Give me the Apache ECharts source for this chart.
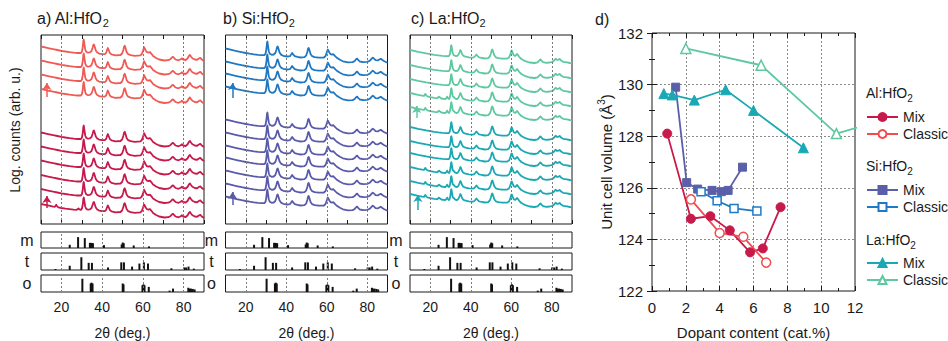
<!DOCTYPE html>
<html>
<head>
<meta charset="utf-8">
<script src="https://cdn.jsdelivr.net/npm/echarts@6.0.0/dist/echarts.min.js"></script>
<style>
html,body{margin:0;padding:0;background:#fff;}
#chart{width:948px;height:341px;}
</style>
</head>
<body>
<div id="chart"></div>
<script>
// ================= DATA =================
// XRD panels a–c : x = 2θ (deg.), y = log. counts (arb. u.)
const xrdRange = [10, 90];
const xrdTickLabels = [20, 40, 60, 80];

// representative profiles [2θ, intensity relative to the curve's baseline]
const profileAl = [
 [10,9.5],[12,8.6],[14,7.7],[16,6.8],[18,6.0],[20,5.2],[22,4.5],[24,3.9],[26,3.4],[28,3.0],[29.6,3.0],
 [30.1,4.5],[30.5,9],[30.8,15.5],[31.0,16.5],[31.3,12],[31.7,6.5],[32.2,4.2],[33.0,3.3],[34.0,3.6],[34.8,5],
 [35.3,8],[35.7,11],[36.0,11.5],[36.4,9],[36.9,5.5],[37.6,3.5],[38.5,2.4],[40,1.8],[41.3,1.8],[42.0,3.2],
 [42.5,6.5],[42.8,8],[43.2,6],[43.8,3],[44.6,1.6],[46.5,0.6],[49.0,1.0],[49.8,2.5],[50.4,6],[50.8,9.5],
 [51.1,10.2],[51.5,8],[52.0,4],[52.8,1.8],[54,0.8],[56,0.2],[58.8,0.6],[59.5,2],[60.1,5.5],[60.6,8.8],
 [60.9,8.5],[61.4,5.5],[62.0,3.8],[62.8,3.3],[63.5,3.8],[64.2,2.2],[65,0],[66.5,-2],[68,-3.5],[70.5,-4.5],
 [72.5,-4.2],[73.6,-3],[74.3,-1.3],[74.8,-0.8],[75.3,-1.8],[76,-3.5],[77.5,-4.3],[78.6,-3.3],[79.2,-2.3],
 [79.8,-3.5],[81,-4],[81.9,-2.5],[82.6,0],[83.1,1],[83.6,-0.5],[84.3,-2.3],[85.5,-3.5],[86.6,-3.8],
 [87.5,-2.5],[88.2,-1.8],[88.9,-3.5],[90,-5]
];
const profileAlMono = [
 [10,9.0],[12,8.2],[14,7.3],[16,6.4],[16.8,6.2],[17.2,7.5],[17.5,8.2],[17.9,6.6],[18.5,5.7],[20,5.0],[22,4.3],
 [24,3.8],[26,3.3],[27.5,3.1],[28.0,4.0],[28.4,4.6],[28.8,3.6],[29.6,3.1],
 [30.1,4.5],[30.5,8.5],[30.8,14.5],[31.0,15.5],[31.3,11.5],[31.7,6.5],[32.2,4.2],[33.0,3.3],[34.0,3.6],[34.8,5],
 [35.3,8],[35.7,10.5],[36.0,11],[36.4,8.5],[36.9,5.5],[37.6,3.5],[38.5,2.4],[40,1.8],[41.3,1.8],[42.0,3.2],
 [42.5,6.2],[42.8,7.5],[43.2,5.8],[43.8,3],[44.6,1.6],[46.5,0.6],[49.0,1.0],[49.8,2.5],[50.4,6],[50.8,9.2],
 [51.1,9.8],[51.5,7.6],[52.0,4],[52.8,1.8],[54,0.8],[56,0.2],[58.8,0.6],[59.5,2],[60.1,5.5],[60.6,8.5],
 [60.9,8.2],[61.4,5.5],[62.0,3.8],[62.8,3.3],[63.5,3.8],[64.2,2.2],[65,0],[66.5,-2],[68,-3.5],[70.5,-4.5],
 [72.5,-4.2],[73.6,-3],[74.3,-1.3],[74.8,-0.8],[75.3,-1.8],[76,-3.5],[77.5,-4.3],[78.6,-3.3],[79.2,-2.3],
 [79.8,-3.5],[81,-4],[81.9,-2.5],[82.6,0],[83.1,1],[83.6,-0.5],[84.3,-2.3],[85.5,-3.5],[86.6,-3.8],
 [87.5,-2.5],[88.2,-1.8],[88.9,-3.5],[90,-5]
];
const profileSi = [
 [10,9.5],[12,8.6],[14,7.6],[16,6.7],[18,5.8],[20,5.0],[22,4.3],[24,3.7],[26,3.2],[28,2.9],[29.3,2.9],
 [29.8,4.5],[30.2,9],[30.5,15.5],[30.7,16.5],[31.0,12],[31.4,6.5],[31.9,4.2],[32.8,3.2],[33.8,3.5],[34.6,5],
 [35.1,8],[35.5,11],[35.8,11.5],[36.2,9],[36.7,5.5],[37.4,3.4],[38.5,2.2],[40.5,1.5],[41.8,1.8],[42.4,3.5],
 [42.9,5],[43.4,3.6],[44.2,1.8],[45.5,1.1],[47,0.5],[49,0.8],[49.8,2.3],[50.4,6],[50.8,9.5],[51.1,10],
 [51.5,7.5],[52.0,4],[52.8,1.8],[54,0.8],[56,0.3],[58.6,0.5],[59.4,2],[60.0,5.5],[60.5,8.5],[60.8,8.3],
 [61.3,5.5],[61.9,3.8],[62.6,3.3],[63.2,3.9],[63.9,2.4],[64.8,0.5],[66.5,-1.8],[68,-3.3],[70.5,-4.3],
 [72.8,-4.1],[73.8,-3],[74.5,-1.2],[75.0,-0.6],[75.5,-1.8],[76.3,-3.5],[78,-4.2],[80,-3.9],[81.2,-2.8],
 [82.1,-0.8],[82.7,0.4],[83.3,-0.5],[84.1,-2.2],[85.2,-2.4],[86.1,-1.3],[86.7,-0.8],[87.3,-1.8],[88.2,-3],
 [89.2,-4],[90,-4.8]
];
const profileLa = [
 [10,9],[12,8.1],[14,7.2],[16,6.4],[18,5.6],[20,4.9],[22,4.2],[24,3.6],[26,3.1],[28,2.8],[29.1,2.8],
 [29.6,4.2],[30.0,8],[30.25,13],[30.45,13.8],[30.75,10],[31.1,5.8],[31.6,3.8],[32.5,3],[33.4,3.2],[34.0,4.5],
 [34.5,7],[34.85,9],[35.2,8],[35.6,5.5],[36.2,3.6],[37,2.6],[39,1.6],[41,1.4],[41.8,2],[42.4,3.5],[42.8,4.5],
 [43.3,3.2],[44.1,1.7],[45.5,1],[47,0.5],[48.6,0.9],[49.4,2.5],[50.0,5.8],[50.4,9],[50.7,9.5],[51.1,7.2],
 [51.6,3.8],[52.4,1.7],[53.6,0.8],[55.5,0.3],[58,0.4],[58.9,1.5],[59.6,4.8],[60.0,8],[60.3,8.5],[60.7,6],
 [61.3,3.7],[62.0,3.2],[62.5,4.2],[62.9,5],[63.3,4],[63.9,2.2],[65,0],[67,-2.2],[69,-3.5],[71.5,-4],
 [73.0,-3.3],[73.8,-1.6],[74.4,-0.4],[74.9,-1.6],[75.7,-3.2],[77.3,-3.8],[79,-3.5],[80.4,-2.8],[81.3,-1.2],
 [81.9,0.2],[82.5,-0.8],[83.2,-0.8],[83.9,0.1],[84.6,-1.6],[85.6,-2.8],[87.5,-3.4],[89,-4],[90,-4.5]
];
const profileLaMono = [
 [10,9],[12,8.1],[14,7.2],[16,6.4],[16.9,6.1],[17.3,7.4],[17.6,8],[18.0,6.6],[18.6,5.6],[20,4.9],[22,4.2],
 [23.4,3.8],[24.0,4.8],[24.35,5.4],[24.8,4.4],[25.5,3.5],[26.5,3.1],[27.5,3.0],[28.0,4.2],[28.35,5.4],
 [28.8,3.8],[29.3,3.0],
 [29.6,4.2],[30.0,8],[30.25,13],[30.45,13.8],[30.75,10],[31.1,5.8],[31.45,5.3],[31.7,5],[32.2,3.6],[32.8,3],
 [33.4,3.2],[34.0,4.5],[34.5,7],[34.85,9],[35.2,8],[35.6,5.5],[36.2,3.6],[37,2.6],[39,1.6],[41,1.4],[41.8,2],
 [42.4,3.5],[42.8,4.5],[43.3,3.2],[44.1,1.7],[45.5,1],[47,0.5],[48.6,0.9],[49.4,2.5],[50.0,5.8],[50.4,9],
 [50.7,9.5],[51.1,7.2],[51.6,3.8],[52.4,1.7],[53.6,0.8],[55.5,0.3],[58,0.4],[58.9,1.5],[59.6,4.8],[60.0,8],
 [60.3,8.5],[60.7,6],[61.3,3.7],[62.0,3.2],[62.5,4.2],[62.9,5],[63.3,4],[63.9,2.2],[65,0],[67,-2.2],[69,-3.5],
 [71.5,-4],[73.0,-3.3],[73.8,-1.6],[74.4,-0.4],[74.9,-1.6],[75.7,-3.2],[77.3,-3.8],[79,-3.5],[80.4,-2.8],
 [81.3,-1.2],[81.9,0.2],[82.5,-0.8],[83.2,-0.8],[83.9,0.1],[84.6,-1.6],[85.6,-2.8],[87.5,-3.4],[89,-4],[90,-4.5]
];

// vertical position (baseline) of each stacked curve, top to bottom
const offsetAlClassic = [168, 154, 140, 125.5];
const offsetAlMix     = [82, 68, 54, 39.5, 25.5, 11];
const offsetSiClassic = [166, 153, 141, 128];
const offsetSiMix     = [95, 82, 69, 57, 44, 31, 18];
const offsetLaClassic = [165, 150, 136, 122, 108];
const offsetLaMix     = [88, 74, 62, 48, 34, 21];

// which profile each curve uses (0 = main, 1 = with monoclinic traces)
const shapeAlClassic = [0, 0, 0, 0];
const shapeAlMix     = [0, 0, 0, 0, 0, 1];
const shapeSiClassic = [0, 0, 0, 0];
const shapeSiMix     = [0, 0, 0, 0, 0, 0, 0];
const shapeLaClassic = [0, 0, 0, 1, 1];
const shapeLaMix     = [0, 0, 0, 1, 1, 1];

// arrows [2θ, from, to]
const arrowsAl = [[12.9, 127, 141], [12.9, 16, 28]];
const arrowsSi = [[13.5, 126, 141], [13.5, 19, 32]];
const arrowsLa = [[13.3, 106, 118], [13.9, 14, 29]];

// reference patterns [2θ, relative intensity]
const refMono = [[24.1,0.2],[28.2,0.68],[31.5,0.62],[34.0,0.32],[34.5,0.32],[35.0,0.3],[35.5,0.3],[40.9,0.18],
 [49.6,0.22],[50.1,0.34],[50.6,0.3],[55.5,0.16],[63.0,0.1]];
const refTetra = [[17.1,0.06],[24.1,0.25],[29.8,0.75],[33.4,0.42],[35.0,0.42],[42.9,0.15],[49.4,0.45],[50.7,0.45],
 [54.7,0.2],[58.3,0.38],[60.5,0.45],[62.5,0.38],[74.0,0.1],[80.2,0.15],[81.2,0.15],[82.4,0.2],[85.0,0.08]];
const refOrtho = [[30.3,0.78],[34.4,0.5],[34.8,0.55],[35.3,0.5],[50.1,0.5],[50.5,0.45],[59.8,0.4],[60.3,0.45],
 [60.8,0.4],[62.9,0.3],[73.1,0.08],[74.8,0.2],[82.3,0.25],[82.8,0.2],[83.6,0.2],[84.5,0.18],[85.4,0.15]];
const refLabels = ['m', 't', 'o'];

// Panel d : unit cell volume (Å³) vs dopant content (cat.%)
const dRangeX = [0, 12];
const dRangeY = [122, 132];
const alMix     = [[0.9,128.1],[2.3,124.8],[3.45,124.9],[4.6,124.35],[5.8,123.5],[6.55,123.65],[7.6,125.25]];
const alClassic = [[2.3,125.55],[4.0,124.25],[5.4,124.1],[6.75,123.1]];
const siMix     = [[1.4,129.9],[2.05,126.2],[2.7,125.95],[3.55,125.9],[4.1,125.85],[4.5,125.9],[5.35,126.8]];
const siClassic = [[2.9,125.85],[3.85,125.5],[4.85,125.2],[6.2,125.1]];
const laMix     = [[0.7,129.65],[1.2,129.6],[2.5,129.4],[4.35,129.8],[6.0,129.0],[8.95,127.55]];
const laClassic = [[2.0,131.4],[6.45,130.75],[10.9,128.1],[13.0,128.5]];

// ================= CHART =================
const FONT = '"Liberation Sans", Arial, Helvetica, sans-serif';
const INK = '#1a1a1a';
const COLORS = {
  alClassic: '#f05a55', alMix: '#c8194b',
  siClassic: '#1f78c1', siMix: '#5a5aab',
  laClassic: '#5ec8a0', laMix: '#1aa9b4'
};

const chart = echarts.init(document.getElementById('chart'), null, {renderer: 'svg', width: 948, height: 341});

const option = {
  animation: false,
  backgroundColor: '#fff',
  textStyle: {fontFamily: FONT, color: INK},
  grid: [], xAxis: [], yAxis: [], series: [], legend: [], graphic: []
};

const MAIN_TOP = 35, MAIN_H = 189;
const boxRows = [[MAIN_TOP, MAIN_H], [232, 16], [253, 17], [275, 17]];

const panels = [
  {title: 'a) Al:HfO', left: 41, width: 163, titleX: 37, profiles: [profileAl, profileAlMono], arrows: arrowsAl,
   groups: [{off: offsetAlClassic, shape: shapeAlClassic, color: COLORS.alClassic},
            {off: offsetAlMix, shape: shapeAlMix, color: COLORS.alMix}]},
  {title: 'b) Si:HfO', left: 225.5, width: 162, titleX: 223, profiles: [profileSi, profileSi], arrows: arrowsSi,
   groups: [{off: offsetSiClassic, shape: shapeSiClassic, color: COLORS.siClassic},
            {off: offsetSiMix, shape: shapeSiMix, color: COLORS.siMix}]},
  {title: 'c) La:HfO', left: 410, width: 162, titleX: 411, profiles: [profileLa, profileLaMono], arrows: arrowsLa,
   groups: [{off: offsetLaClassic, shape: shapeLaClassic, color: COLORS.laClassic},
            {off: offsetLaMix, shape: shapeLaMix, color: COLORS.laMix}]}
];

const gridMarks = {
  silent: true, symbol: 'none', animation: false,
  label: {show: false},
  lineStyle: {color: '#7a7a7a', type: [2, 2], width: 1},
  data: xrdTickLabels.map(v => ({xAxis: v}))
};

panels.forEach((p) => {
  const g0 = option.grid.length;
  boxRows.forEach(([t, h]) => option.grid.push({
    left: p.left, width: p.width, top: t, height: h, show: true,
    borderColor: INK, borderWidth: 1, backgroundColor: 'transparent', outerBoundsMode: 'none'
  }));
  const xb = option.xAxis.length;
  const tickX = (pos) => ({
    gridIndex: g0, type: 'value', position: pos, min: xrdRange[0], max: xrdRange[1], interval: 10,
    axisLine: {show: false}, axisLabel: {show: false}, splitLine: {show: false},
    axisTick: {show: true, inside: true, length: 4, lineStyle: {color: INK, width: 1}}
  });
  option.xAxis.push(tickX('bottom'), tickX('top'));
  for (let k = 1; k <= 3; k++) {
    const last = k === 3;
    option.xAxis.push({
      gridIndex: g0 + k, type: 'value', min: xrdRange[0], max: xrdRange[1], interval: 10,
      axisLine: {show: false}, axisTick: {show: false}, splitLine: {show: false},
      axisLabel: {show: last, fontSize: 14, color: INK, fontFamily: FONT, margin: 8,
                  formatter: v => xrdTickLabels.includes(v) ? String(v) : ''},
      name: last ? '2θ (deg.)' : '', nameLocation: 'middle', nameGap: 34,
      nameTextStyle: {fontSize: 14, color: INK, fontFamily: FONT}
    });
  }
  const yb = option.yAxis.length;
  option.yAxis.push({gridIndex: g0, type: 'value', min: 0, max: MAIN_H, show: false});
  for (let k = 1; k <= 3; k++) option.yAxis.push({gridIndex: g0 + k, type: 'value', min: 0, max: 1, show: false});

  const xIdx = k => k === 0 ? xb : xb + 1 + k;
  // dotted guide lines
  for (let k = 0; k < 4; k++) {
    option.series.push({type: 'line', xAxisIndex: xIdx(k), yAxisIndex: yb + k, data: [], silent: true,
      markLine: gridMarks, z: 1});
  }
  // curves
  p.groups.forEach(gr => {
    gr.off.forEach((o, i) => {
      const prof = p.profiles[gr.shape[i]];
      option.series.push({
        type: 'line', xAxisIndex: xb, yAxisIndex: yb, showSymbol: false, symbol: 'none', silent: true,
        lineStyle: {color: gr.color, width: 1.8, join: 'round'}, z: 3,
        data: prof.map(([x, v]) => [x, v + o])
      });
    });
  });
  // arrows
  p.arrows.forEach((a, i) => {
    option.series.push({type: 'line', xAxisIndex: xb, yAxisIndex: yb, data: [], silent: true, z: 4,
      markLine: {silent: true, symbol: ['none', 'arrow'], symbolSize: 7, label: {show: false},
        lineStyle: {color: p.groups[i].color, width: 1.5, type: 'solid'},
        data: [[{coord: [a[0], a[1]]}, {coord: [a[0], a[2]]}]]}});
  });
  // reference bars
  [refMono, refTetra, refOrtho].forEach((ref, j) => {
    option.series.push({type: 'bar', xAxisIndex: xIdx(j + 1), yAxisIndex: yb + j + 1, barWidth: 2,
      silent: true, itemStyle: {color: '#111'}, data: ref, z: 3});
  });
  // texts
  option.graphic.push({type: 'text', left: p.titleX, top: 10, silent: true,
    style: {text: '{t|' + p.title + '}{s|2}', fill: INK,
      rich: {t: {fontSize: 16, lineHeight: 20, fontFamily: FONT, fill: INK},
             s: {fontSize: 11, lineHeight: 11, verticalAlign: 'bottom', fontFamily: FONT, fill: INK}}}});
  refLabels.forEach((lab, j) => {
    const [t, h] = boxRows[j + 1];
    option.graphic.push({type: 'text', x: p.left - 14, y: t + h / 2, silent: true,
      style: {text: lab, fontSize: 16, fontFamily: FONT, fill: INK, align: 'center', verticalAlign: 'middle'}});
  });
});

option.graphic.push({type: 'text', x: 15, y: 130, rotation: Math.PI / 2, silent: true,
  style: {text: 'Log. counts (arb. u.)', fontSize: 14, fontFamily: FONT, fill: INK, align: 'center', verticalAlign: 'middle'}});

// ---------- panel d ----------
const gd = option.grid.length;
option.grid.push({left: 652, top: 33, width: 203, height: 258, show: true, borderColor: INK, borderWidth: 1,
  backgroundColor: 'transparent', outerBoundsMode: 'none'});
const dotted = {show: true, lineStyle: {color: '#8a8a8a', type: [2, 2], width: 1}};
const tickStyle = {show: true, inside: true, length: 5, lineStyle: {color: INK}};
const minorStyle = {show: true, splitNumber: 2, length: 3, lineStyle: {color: INK}};
const xd = option.xAxis.length;
option.xAxis.push({gridIndex: gd, type: 'value', min: dRangeX[0], max: dRangeX[1], interval: 2,
  axisLine: {show: false}, axisTick: tickStyle, minorTick: minorStyle, splitLine: dotted,
  axisLabel: {fontSize: 15, color: INK, fontFamily: FONT, margin: 9},
  name: 'Dopant content (cat.%)', nameLocation: 'middle', nameGap: 34,
  nameTextStyle: {fontSize: 15, color: INK, fontFamily: FONT}});
option.xAxis.push({gridIndex: gd, type: 'value', position: 'top', min: dRangeX[0], max: dRangeX[1], interval: 2,
  axisLine: {show: false}, axisTick: tickStyle, minorTick: minorStyle, splitLine: {show: false}, axisLabel: {show: false}});
const yd = option.yAxis.length;
option.yAxis.push({gridIndex: gd, type: 'value', min: dRangeY[0], max: dRangeY[1], interval: 2,
  axisLine: {show: false}, axisTick: tickStyle, minorTick: minorStyle, splitLine: dotted,
  axisLabel: {fontSize: 15, color: INK, fontFamily: FONT, margin: 9},
  name: '{n|Unit cell volume (Å}{s|3}{n|)}', nameLocation: 'middle', nameGap: 36,
  nameTextStyle: {fontSize: 15, color: INK, fontFamily: FONT,
    rich: {n: {fontSize: 15, lineHeight: 20, fontFamily: FONT, color: INK},
           s: {fontSize: 10, lineHeight: 10, verticalAlign: 'top', fontFamily: FONT, color: INK}}}});
option.yAxis.push({gridIndex: gd, type: 'value', position: 'right', min: dRangeY[0], max: dRangeY[1], interval: 2,
  axisLine: {show: false}, axisTick: tickStyle, minorTick: minorStyle, splitLine: {show: false}, axisLabel: {show: false}});

const dSeries = [
  ['Al Mix', alMix, 'circle', COLORS.alMix, true],
  ['Al Classic', alClassic, 'circle', '#f04e4e', false],
  ['Si Mix', siMix, 'rect', '#5b5ea8', true],
  ['Si Classic', siClassic, 'rect', '#1e7ac6', false],
  ['La Mix', laMix, 'triangle', COLORS.laMix, true],
  ['La Classic', laClassic, 'triangle', COLORS.laClassic, false]
];
dSeries.forEach(([name, data, sym, c, filled]) => {
  option.series.push({
    name, type: 'line', xAxisIndex: xd, yAxisIndex: yd, data, symbol: sym,
    symbolSize: sym === 'rect' ? 8 : (sym === 'triangle' ? 10 : 9), showSymbol: true, clip: true,
    lineStyle: {color: c, width: 1.8},
    itemStyle: filled ? {color: c, borderColor: c, borderWidth: 1} : {color: '#fff', borderColor: c, borderWidth: 1.5},
    z: 3
  });
});

const legendTops = [110, 183, 256];
['Al', 'Si', 'La'].forEach((el, i) => {
  option.legend.push({
    data: [el + ' Mix', el + ' Classic'], orient: 'vertical', left: 866, top: legendTops[i], padding: 0,
    itemWidth: 31, itemHeight: 10, itemGap: 3, selectedMode: false,
    formatter: n => n.split(' ')[1],
    textStyle: {fontSize: 14, color: INK, fontFamily: FONT}
  });
});
[['Al:HfO', 95], ['Si:HfO', 168], ['La:HfO', 242]].forEach(([t, y]) => {
  option.graphic.push({type: 'text', left: 866, top: y - 9, silent: true,
    style: {text: '{t|' + t + '}{s|2}', fill: INK,
      rich: {t: {fontSize: 14, lineHeight: 20, fontFamily: FONT, fill: INK},
             s: {fontSize: 10, lineHeight: 11, verticalAlign: 'bottom', fontFamily: FONT, fill: INK}}}});
});
option.graphic.push({type: 'text', left: 595, top: 11, silent: true,
  style: {text: 'd)', fontSize: 16, fontFamily: FONT, fill: INK}});

chart.setOption(option);
</script>
</body>
</html>
